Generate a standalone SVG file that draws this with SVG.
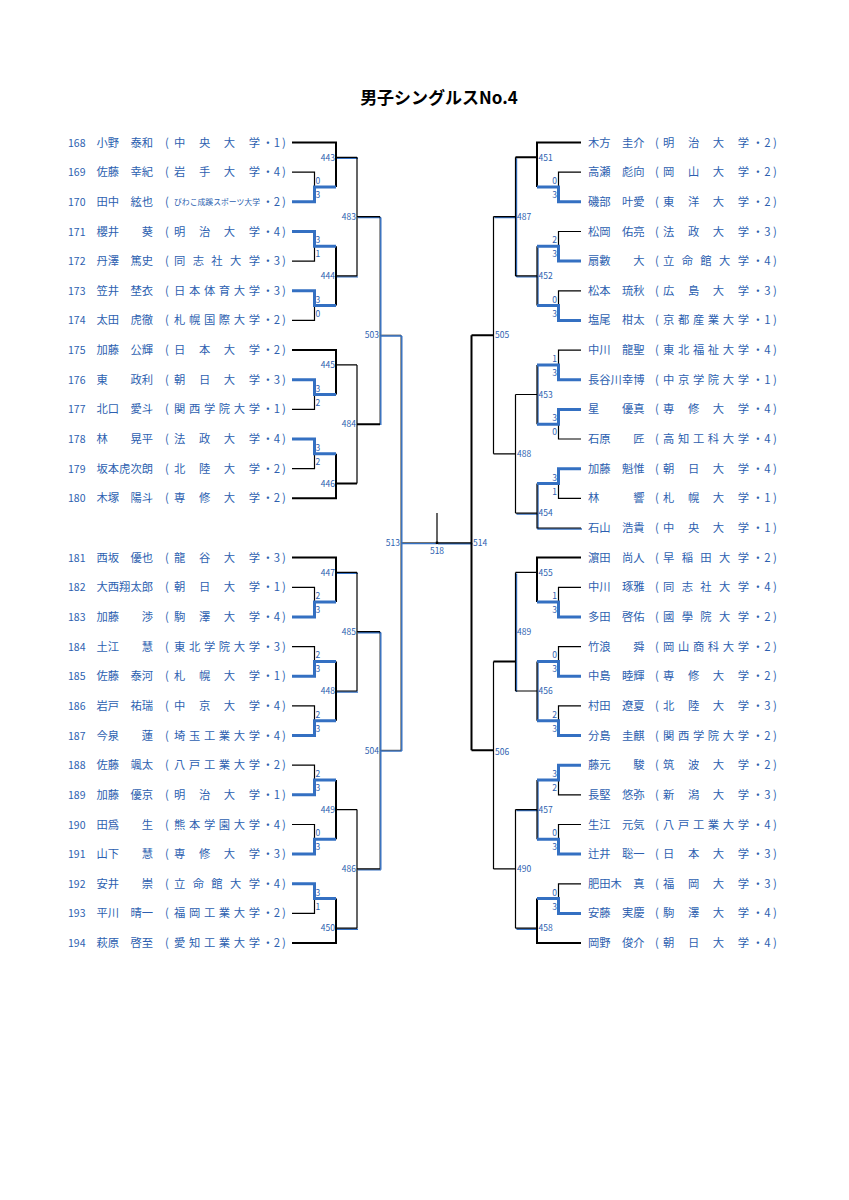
<svg xmlns="http://www.w3.org/2000/svg" xmlns:xlink="http://www.w3.org/1999/xlink" width="849" height="1200" viewBox="0 0 849 1200">
<style>
.t{font-family:"Noto Sans CJK JP","Noto Sans CJK SC",sans-serif;fill:#2d5fb0}
.n{font-size:10.5px}
.nm{font-size:11.3px}
.u{font-size:11.3px}
.m{text-anchor:middle}
.s{font-size:8.5px}
.lb{font-size:8.5px}
.k{stroke:#000;stroke-width:1.2;fill:none}
.kf{stroke:#000;stroke-width:0.8;fill:none}
.kt{stroke:#000;stroke-width:2;fill:none}
.w{stroke:#3470c2;stroke-width:3;fill:none}
.b{stroke:#3470c2;stroke-width:1.4;fill:none}
.ttl{font-family:"Noto Sans CJK JP","Noto Sans CJK SC",sans-serif;font-size:17px;font-weight:bold;fill:#000}
</style>
<defs>
<path id="dual" d="M336 157.3H357M336 275.9H357M336 572.4H357M336 691H357M336 928.2H357M357 216.6H380M357 631.7H380M357 868.9H380M537 246.3V305.6M537 364.9V424.2M537 661.4V720.7M537 780V839.3M537 275.9H515.5M537 513.1H515.5M537 809.6H515.5M537 928.2H515.5M515.5 157.3V275.9M515.5 572.4V691M515.5 216.6H493.5M471.5 542.8H437M581 528H537V483.5"/>
<path id="blu" d="M380 216.6V424.2M380 631.7V868.9M380 335.2H401M380 750.3H401M401 335.2V750.3M401 542.8H437"/>
</defs>
<rect width="849" height="1200" fill="#fff"/>
<text class="ttl" x="439" y="104" text-anchor="middle">男子シングルスNo.4</text>

<g id="connectors">
<use xlink:href="#dual" class="b" transform="translate(1,1)"/>
<use xlink:href="#dual" class="k"/>
<use xlink:href="#blu" class="kf"/>
<use xlink:href="#blu" class="b" transform="translate(0.8,0.8)"/>
<path class="k" d="M292 172.2H314.5V187M292 261.1H314.5V246.3M292 320.4H314.5V305.6M292 409.4H314.5V394.5M292 468.7H314.5V453.8M292 587.3H314.5V602.1M292 646.6H314.5V661.4M292 705.9H314.5V720.7M292 765.2H314.5V780M292 824.5H314.5V839.3M292 913.4H314.5V898.6"/>
<path class="k" d="M336 364.9H357M336 809.6H357M357 157.3V275.9M357 364.9V483.5M357 572.4V691M357 809.6V928.2"/>
<path class="kt" d="M292 142.5H336V187M292 350.1H336V394.5M292 498.3H336V453.8M292 557.6H336V602.1M292 943.1H336V898.6M336 246.3V305.6M336 661.4V720.7M336 780V839.3M336 483.5H357M357 424.2H380"/>
<path class="k" d="M581 172.2H558.5V187M581 231.5H558.5V246.3M581 290.8H558.5V305.6M581 350.1H558.5V364.9M581 439H558.5V424.2M581 498.3H558.5V483.5M581 587.3H558.5V602.1M581 646.6H558.5V661.4M581 705.9H558.5V720.7M581 794.8H558.5V780M581 824.5H558.5V839.3M581 883.8H558.5V898.6"/>
<path class="k" d="M537 394.5H515.5M537 572.4H515.5M537 691H515.5M515.5 394.5V513.1M515.5 809.6V928.2M515.5 453.8H493.5M515.5 868.9H493.5M493.5 216.6V453.8M493.5 661.4V868.9M437 513V542.8"/>
<path class="kt" d="M581 142.5H537V187M581 557.6H537V602.1M581 943.1H537V898.6M537 157.3H515.5M515.5 661.4H493.5M493.5 335.2H471.5M493.5 750.3H471.5M471.5 335.2V750.3"/>
<path class="w" d="M292 201.8H314.5V187H336M292 231.5H314.5V246.3H336M292 290.8H314.5V305.6H336M292 379.7H314.5V394.5H336M292 439H314.5V453.8H336M292 616.9H314.5V602.1H336M292 676.2H314.5V661.4H336M292 735.5H314.5V720.7H336M292 794.8H314.5V780H336M292 854.1H314.5V839.3H336M292 883.8H314.5V898.6H336"/>
<path class="w" d="M581 201.8H558.5V187H537M581 261.1H558.5V246.3H537M581 320.4H558.5V305.6H537M581 379.7H558.5V364.9H537M581 409.4H558.5V424.2H537M581 468.7H558.5V483.5H537M581 616.9H558.5V602.1H537M581 676.2H558.5V661.4H537M581 735.5H558.5V720.7H537M581 765.2H558.5V780H537M581 854.1H558.5V839.3H537M581 913.4H558.5V898.6H537"/>
<rect x="435.8" y="541.6" width="2.4" height="2.4" fill="#000"/>
</g>

<g id="scores" class="t s">
<text x="315.5" y="184">0</text><text x="315.5" y="198">3</text>
<text x="315.5" y="243.3">3</text><text x="315.5" y="257.3">1</text>
<text x="315.5" y="302.6">3</text><text x="315.5" y="316.6">0</text>
<text x="315.5" y="391.5">3</text><text x="315.5" y="405.5">2</text>
<text x="315.5" y="450.8">3</text><text x="315.5" y="464.8">2</text>
<text x="315.5" y="599.1">2</text><text x="315.5" y="613.1">3</text>
<text x="315.5" y="658.4">2</text><text x="315.5" y="672.4">3</text>
<text x="315.5" y="717.7">2</text><text x="315.5" y="731.7">3</text>
<text x="315.5" y="777">2</text><text x="315.5" y="791">3</text>
<text x="315.5" y="836.3">0</text><text x="315.5" y="850.3">3</text>
<text x="315.5" y="895.6">3</text><text x="315.5" y="909.6">1</text>
<g text-anchor="end">
<text x="557" y="184">0</text><text x="557" y="198">3</text>
<text x="557" y="243.3">2</text><text x="557" y="257.3">3</text>
<text x="557" y="302.6">0</text><text x="557" y="316.6">3</text>
<text x="557" y="361.9">1</text><text x="557" y="375.9">3</text>
<text x="557" y="421.2">3</text><text x="557" y="435.2">0</text>
<text x="557" y="480.5">3</text><text x="557" y="494.5">1</text>
<text x="557" y="599.1">1</text><text x="557" y="613.1">3</text>
<text x="557" y="658.4">0</text><text x="557" y="672.4">3</text>
<text x="557" y="717.7">2</text><text x="557" y="731.7">3</text>
<text x="557" y="777">3</text><text x="557" y="791">2</text>
<text x="557" y="836.3">0</text><text x="557" y="850.3">3</text>
<text x="557" y="895.6">0</text><text x="557" y="909.6">3</text>
</g>
</g>

<g id="matches" class="t lb">
<g text-anchor="end">
<text id="m443" x="335" y="160.5">443</text>
<text id="m444" x="335" y="279.1">444</text>
<text id="m445" x="335" y="368.1">445</text>
<text id="m446" x="335" y="486.7">446</text>
<text id="m447" x="335" y="575.6">447</text>
<text id="m448" x="335" y="694.2">448</text>
<text id="m449" x="335" y="812.8">449</text>
<text id="m450" x="335" y="931.4">450</text>
<text id="m483" x="356" y="219.8">483</text>
<text id="m484" x="356" y="427.4">484</text>
<text id="m485" x="356" y="634.9">485</text>
<text id="m486" x="356" y="872.1">486</text>
<text id="m503" x="379" y="338.4">503</text>
<text id="m504" x="379" y="753.5">504</text>
<text id="m513" x="400" y="546">513</text>
</g>
<text id="m451" x="538.5" y="160.5">451</text>
<text id="m452" x="538.5" y="279.1">452</text>
<text id="m453" x="538.5" y="397.7">453</text>
<text id="m454" x="538.5" y="516.3">454</text>
<text id="m455" x="538.5" y="575.6">455</text>
<text id="m456" x="538.5" y="694.2">456</text>
<text id="m457" x="538.5" y="812.8">457</text>
<text id="m458" x="538.5" y="931.4">458</text>
<text id="m487" x="517" y="219.8">487</text>
<text id="m488" x="517" y="457">488</text>
<text id="m489" x="517" y="634.9">489</text>
<text id="m490" x="517" y="872.1">490</text>
<text id="m505" x="495" y="338.4">505</text>
<text id="m506" x="495" y="754.5">506</text>
<text id="m514" x="473" y="546">514</text>
<text id="m518" x="437" y="554" text-anchor="middle">518</text>
</g>

<g id="left-players" class="t">
<g id="p168"><text class="n" x="68" y="146.5">168</text><text class="nm" x="96.5" y="146.5">小野　泰和</text><text class="u m" x="167" y="146.5">(</text><text class="u" x="174" y="146.5" textLength="86" lengthAdjust="spacing">中央大学</text><text class="u m" x="268 277 284" y="146.5">・1)</text></g>
<g id="p169"><text class="n" x="68" y="176.2">169</text><text class="nm" x="96.5" y="176.2">佐藤　幸紀</text><text class="u m" x="167" y="176.2">(</text><text class="u" x="174" y="176.2" textLength="86" lengthAdjust="spacing">岩手大学</text><text class="u m" x="268 277 284" y="176.2">・4)</text></g>
<g id="p170"><text class="n" x="68" y="205.8">170</text><text class="nm" x="96.5" y="205.8">田中　絃也</text><text class="u m" x="167" y="205.8">(</text><text x="174" y="205.3" style="font-size:8px" textLength="86" lengthAdjust="spacingAndGlyphs">びわこ成蹊スポーツ大学</text><text class="u m" x="268 277 284" y="205.8">・2)</text></g>
<g id="p171"><text class="n" x="68" y="235.5">171</text><text class="nm" x="96.5" y="235.5">櫻井　　葵</text><text class="u m" x="167" y="235.5">(</text><text class="u" x="174" y="235.5" textLength="86" lengthAdjust="spacing">明治大学</text><text class="u m" x="268 277 284" y="235.5">・4)</text></g>
<g id="p172"><text class="n" x="68" y="265.1">172</text><text class="nm" x="96.5" y="265.1">丹澤　篤史</text><text class="u m" x="167" y="265.1">(</text><text class="u" x="174" y="265.1" textLength="86" lengthAdjust="spacing">同志社大学</text><text class="u m" x="268 277 284" y="265.1">・3)</text></g>
<g id="p173"><text class="n" x="68" y="294.8">173</text><text class="nm" x="96.5" y="294.8">笠井　埜衣</text><text class="u m" x="167" y="294.8">(</text><text class="u" x="174" y="294.8" textLength="86" lengthAdjust="spacing">日本体育大学</text><text class="u m" x="268 277 284" y="294.8">・3)</text></g>
<g id="p174"><text class="n" x="68" y="324.4">174</text><text class="nm" x="96.5" y="324.4">太田　虎徹</text><text class="u m" x="167" y="324.4">(</text><text class="u" x="174" y="324.4" textLength="86" lengthAdjust="spacing">札幌国際大学</text><text class="u m" x="268 277 284" y="324.4">・2)</text></g>
<g id="p175"><text class="n" x="68" y="354.1">175</text><text class="nm" x="96.5" y="354.1">加藤　公輝</text><text class="u m" x="167" y="354.1">(</text><text class="u" x="174" y="354.1" textLength="86" lengthAdjust="spacing">日本大学</text><text class="u m" x="268 277 284" y="354.1">・2)</text></g>
<g id="p176"><text class="n" x="68" y="383.7">176</text><text class="nm" x="96.5" y="383.7">東　　政利</text><text class="u m" x="167" y="383.7">(</text><text class="u" x="174" y="383.7" textLength="86" lengthAdjust="spacing">朝日大学</text><text class="u m" x="268 277 284" y="383.7">・3)</text></g>
<g id="p177"><text class="n" x="68" y="413.4">177</text><text class="nm" x="96.5" y="413.4">北口　愛斗</text><text class="u m" x="167" y="413.4">(</text><text class="u" x="174" y="413.4" textLength="86" lengthAdjust="spacing">関西学院大学</text><text class="u m" x="268 277 284" y="413.4">・1)</text></g>
<g id="p178"><text class="n" x="68" y="443">178</text><text class="nm" x="96.5" y="443">林　　晃平</text><text class="u m" x="167" y="443">(</text><text class="u" x="174" y="443" textLength="86" lengthAdjust="spacing">法政大学</text><text class="u m" x="268 277 284" y="443">・4)</text></g>
<g id="p179"><text class="n" x="68" y="472.7">179</text><text class="nm" x="96.5" y="472.7">坂本虎次朗</text><text class="u m" x="167" y="472.7">(</text><text class="u" x="174" y="472.7" textLength="86" lengthAdjust="spacing">北陸大学</text><text class="u m" x="268 277 284" y="472.7">・2)</text></g>
<g id="p180"><text class="n" x="68" y="502.3">180</text><text class="nm" x="96.5" y="502.3">木塚　陽斗</text><text class="u m" x="167" y="502.3">(</text><text class="u" x="174" y="502.3" textLength="86" lengthAdjust="spacing">専修大学</text><text class="u m" x="268 277 284" y="502.3">・2)</text></g>
<g id="p181"><text class="n" x="68" y="561.6">181</text><text class="nm" x="96.5" y="561.6">西坂　優也</text><text class="u m" x="167" y="561.6">(</text><text class="u" x="174" y="561.6" textLength="86" lengthAdjust="spacing">龍谷大学</text><text class="u m" x="268 277 284" y="561.6">・3)</text></g>
<g id="p182"><text class="n" x="68" y="591.3">182</text><text class="nm" x="96.5" y="591.3">大西翔太郎</text><text class="u m" x="167" y="591.3">(</text><text class="u" x="174" y="591.3" textLength="86" lengthAdjust="spacing">朝日大学</text><text class="u m" x="268 277 284" y="591.3">・1)</text></g>
<g id="p183"><text class="n" x="68" y="620.9">183</text><text class="nm" x="96.5" y="620.9">加藤　　渉</text><text class="u m" x="167" y="620.9">(</text><text class="u" x="174" y="620.9" textLength="86" lengthAdjust="spacing">駒澤大学</text><text class="u m" x="268 277 284" y="620.9">・4)</text></g>
<g id="p184"><text class="n" x="68" y="650.6">184</text><text class="nm" x="96.5" y="650.6">土江　　慧</text><text class="u m" x="167" y="650.6">(</text><text class="u" x="174" y="650.6" textLength="86" lengthAdjust="spacing">東北学院大学</text><text class="u m" x="268 277 284" y="650.6">・3)</text></g>
<g id="p185"><text class="n" x="68" y="680.2">185</text><text class="nm" x="96.5" y="680.2">佐藤　泰河</text><text class="u m" x="167" y="680.2">(</text><text class="u" x="174" y="680.2" textLength="86" lengthAdjust="spacing">札幌大学</text><text class="u m" x="268 277 284" y="680.2">・1)</text></g>
<g id="p186"><text class="n" x="68" y="709.9">186</text><text class="nm" x="96.5" y="709.9">岩戸　祐瑞</text><text class="u m" x="167" y="709.9">(</text><text class="u" x="174" y="709.9" textLength="86" lengthAdjust="spacing">中京大学</text><text class="u m" x="268 277 284" y="709.9">・4)</text></g>
<g id="p187"><text class="n" x="68" y="739.5">187</text><text class="nm" x="96.5" y="739.5">今泉　　蓮</text><text class="u m" x="167" y="739.5">(</text><text class="u" x="174" y="739.5" textLength="86" lengthAdjust="spacing">埼玉工業大学</text><text class="u m" x="268 277 284" y="739.5">・4)</text></g>
<g id="p188"><text class="n" x="68" y="769.2">188</text><text class="nm" x="96.5" y="769.2">佐藤　颯太</text><text class="u m" x="167" y="769.2">(</text><text class="u" x="174" y="769.2" textLength="86" lengthAdjust="spacing">八戸工業大学</text><text class="u m" x="268 277 284" y="769.2">・2)</text></g>
<g id="p189"><text class="n" x="68" y="798.8">189</text><text class="nm" x="96.5" y="798.8">加藤　優京</text><text class="u m" x="167" y="798.8">(</text><text class="u" x="174" y="798.8" textLength="86" lengthAdjust="spacing">明治大学</text><text class="u m" x="268 277 284" y="798.8">・1)</text></g>
<g id="p190"><text class="n" x="68" y="828.5">190</text><text class="nm" x="96.5" y="828.5">田爲　　生</text><text class="u m" x="167" y="828.5">(</text><text class="u" x="174" y="828.5" textLength="86" lengthAdjust="spacing">熊本学園大学</text><text class="u m" x="268 277 284" y="828.5">・4)</text></g>
<g id="p191"><text class="n" x="68" y="858.1">191</text><text class="nm" x="96.5" y="858.1">山下　　慧</text><text class="u m" x="167" y="858.1">(</text><text class="u" x="174" y="858.1" textLength="86" lengthAdjust="spacing">専修大学</text><text class="u m" x="268 277 284" y="858.1">・3)</text></g>
<g id="p192"><text class="n" x="68" y="887.8">192</text><text class="nm" x="96.5" y="887.8">安井　　崇</text><text class="u m" x="167" y="887.8">(</text><text class="u" x="174" y="887.8" textLength="86" lengthAdjust="spacing">立命館大学</text><text class="u m" x="268 277 284" y="887.8">・4)</text></g>
<g id="p193"><text class="n" x="68" y="917.4">193</text><text class="nm" x="96.5" y="917.4">平川　晴一</text><text class="u m" x="167" y="917.4">(</text><text class="u" x="174" y="917.4" textLength="86" lengthAdjust="spacing">福岡工業大学</text><text class="u m" x="268 277 284" y="917.4">・2)</text></g>
<g id="p194"><text class="n" x="68" y="947.1">194</text><text class="nm" x="96.5" y="947.1">萩原　啓至</text><text class="u m" x="167" y="947.1">(</text><text class="u" x="174" y="947.1" textLength="86" lengthAdjust="spacing">愛知工業大学</text><text class="u m" x="268 277 284" y="947.1">・2)</text></g>
</g>

<g id="right-players" class="t">
<g id="r01"><text class="nm" x="588" y="146.5">木方　圭介</text><text class="u m" x="657" y="146.5">(</text><text class="u" x="663" y="146.5" textLength="86" lengthAdjust="spacing">明治大学</text><text class="u m" x="758 767.5 775" y="146.5">・2)</text></g>
<g id="r02"><text class="nm" x="588" y="176.2">高瀬　彪向</text><text class="u m" x="657" y="176.2">(</text><text class="u" x="663" y="176.2" textLength="86" lengthAdjust="spacing">岡山大学</text><text class="u m" x="758 767.5 775" y="176.2">・2)</text></g>
<g id="r03"><text class="nm" x="588" y="205.8">磯部　叶愛</text><text class="u m" x="657" y="205.8">(</text><text class="u" x="663" y="205.8" textLength="86" lengthAdjust="spacing">東洋大学</text><text class="u m" x="758 767.5 775" y="205.8">・2)</text></g>
<g id="r04"><text class="nm" x="588" y="235.5">松岡　佑亮</text><text class="u m" x="657" y="235.5">(</text><text class="u" x="663" y="235.5" textLength="86" lengthAdjust="spacing">法政大学</text><text class="u m" x="758 767.5 775" y="235.5">・3)</text></g>
<g id="r05"><text class="nm" x="588" y="265.1">扇數　　大</text><text class="u m" x="657" y="265.1">(</text><text class="u" x="663" y="265.1" textLength="86" lengthAdjust="spacing">立命館大学</text><text class="u m" x="758 767.5 775" y="265.1">・4)</text></g>
<g id="r06"><text class="nm" x="588" y="294.8">松本　琉秋</text><text class="u m" x="657" y="294.8">(</text><text class="u" x="663" y="294.8" textLength="86" lengthAdjust="spacing">広島大学</text><text class="u m" x="758 767.5 775" y="294.8">・3)</text></g>
<g id="r07"><text class="nm" x="588" y="324.4">塩尾　柑太</text><text class="u m" x="657" y="324.4">(</text><text class="u" x="663" y="324.4" textLength="86" lengthAdjust="spacing">京都産業大学</text><text class="u m" x="758 767.5 775" y="324.4">・1)</text></g>
<g id="r08"><text class="nm" x="588" y="354.1">中川　龍聖</text><text class="u m" x="657" y="354.1">(</text><text class="u" x="663" y="354.1" textLength="86" lengthAdjust="spacing">東北福祉大学</text><text class="u m" x="758 767.5 775" y="354.1">・4)</text></g>
<g id="r09"><text class="nm" x="588" y="383.7">長谷川幸博</text><text class="u m" x="657" y="383.7">(</text><text class="u" x="663" y="383.7" textLength="86" lengthAdjust="spacing">中京学院大学</text><text class="u m" x="758 767.5 775" y="383.7">・1)</text></g>
<g id="r10"><text class="nm" x="588" y="413.4">星　　優真</text><text class="u m" x="657" y="413.4">(</text><text class="u" x="663" y="413.4" textLength="86" lengthAdjust="spacing">専修大学</text><text class="u m" x="758 767.5 775" y="413.4">・4)</text></g>
<g id="r11"><text class="nm" x="588" y="443">石原　　匠</text><text class="u m" x="657" y="443">(</text><text class="u" x="663" y="443" textLength="86" lengthAdjust="spacing">高知工科大学</text><text class="u m" x="758 767.5 775" y="443">・4)</text></g>
<g id="r12"><text class="nm" x="588" y="472.7">加藤　魁惟</text><text class="u m" x="657" y="472.7">(</text><text class="u" x="663" y="472.7" textLength="86" lengthAdjust="spacing">朝日大学</text><text class="u m" x="758 767.5 775" y="472.7">・4)</text></g>
<g id="r13"><text class="nm" x="588" y="502.3">林　　　響</text><text class="u m" x="657" y="502.3">(</text><text class="u" x="663" y="502.3" textLength="86" lengthAdjust="spacing">札幌大学</text><text class="u m" x="758 767.5 775" y="502.3">・1)</text></g>
<g id="r14"><text class="nm" x="588" y="532">石山　浩貴</text><text class="u m" x="657" y="532">(</text><text class="u" x="663" y="532" textLength="86" lengthAdjust="spacing">中央大学</text><text class="u m" x="758 767.5 775" y="532">・1)</text></g>
<g id="r15"><text class="nm" x="588" y="561.6">濵田　尚人</text><text class="u m" x="657" y="561.6">(</text><text class="u" x="663" y="561.6" textLength="86" lengthAdjust="spacing">早稲田大学</text><text class="u m" x="758 767.5 775" y="561.6">・2)</text></g>
<g id="r16"><text class="nm" x="588" y="591.3">中川　琢雅</text><text class="u m" x="657" y="591.3">(</text><text class="u" x="663" y="591.3" textLength="86" lengthAdjust="spacing">同志社大学</text><text class="u m" x="758 767.5 775" y="591.3">・4)</text></g>
<g id="r17"><text class="nm" x="588" y="620.9">多田　啓佑</text><text class="u m" x="657" y="620.9">(</text><text class="u" x="663" y="620.9" textLength="86" lengthAdjust="spacing">國學院大学</text><text class="u m" x="758 767.5 775" y="620.9">・2)</text></g>
<g id="r18"><text class="nm" x="588" y="650.6">竹浪　　舜</text><text class="u m" x="657" y="650.6">(</text><text class="u" x="663" y="650.6" textLength="86" lengthAdjust="spacing">岡山商科大学</text><text class="u m" x="758 767.5 775" y="650.6">・2)</text></g>
<g id="r19"><text class="nm" x="588" y="680.2">中島　睦輝</text><text class="u m" x="657" y="680.2">(</text><text class="u" x="663" y="680.2" textLength="86" lengthAdjust="spacing">専修大学</text><text class="u m" x="758 767.5 775" y="680.2">・2)</text></g>
<g id="r20"><text class="nm" x="588" y="709.9">村田　遼夏</text><text class="u m" x="657" y="709.9">(</text><text class="u" x="663" y="709.9" textLength="86" lengthAdjust="spacing">北陸大学</text><text class="u m" x="758 767.5 775" y="709.9">・3)</text></g>
<g id="r21"><text class="nm" x="588" y="739.5">分島　圭麒</text><text class="u m" x="657" y="739.5">(</text><text class="u" x="663" y="739.5" textLength="86" lengthAdjust="spacing">関西学院大学</text><text class="u m" x="758 767.5 775" y="739.5">・2)</text></g>
<g id="r22"><text class="nm" x="588" y="769.2">藤元　　駿</text><text class="u m" x="657" y="769.2">(</text><text class="u" x="663" y="769.2" textLength="86" lengthAdjust="spacing">筑波大学</text><text class="u m" x="758 767.5 775" y="769.2">・2)</text></g>
<g id="r23"><text class="nm" x="588" y="798.8">長堅　悠弥</text><text class="u m" x="657" y="798.8">(</text><text class="u" x="663" y="798.8" textLength="86" lengthAdjust="spacing">新潟大学</text><text class="u m" x="758 767.5 775" y="798.8">・3)</text></g>
<g id="r24"><text class="nm" x="588" y="828.5">生江　元気</text><text class="u m" x="657" y="828.5">(</text><text class="u" x="663" y="828.5" textLength="86" lengthAdjust="spacing">八戸工業大学</text><text class="u m" x="758 767.5 775" y="828.5">・4)</text></g>
<g id="r25"><text class="nm" x="588" y="858.1">辻井　聡一</text><text class="u m" x="657" y="858.1">(</text><text class="u" x="663" y="858.1" textLength="86" lengthAdjust="spacing">日本大学</text><text class="u m" x="758 767.5 775" y="858.1">・3)</text></g>
<g id="r26"><text class="nm" x="588" y="887.8">肥田木　真</text><text class="u m" x="657" y="887.8">(</text><text class="u" x="663" y="887.8" textLength="86" lengthAdjust="spacing">福岡大学</text><text class="u m" x="758 767.5 775" y="887.8">・3)</text></g>
<g id="r27"><text class="nm" x="588" y="917.4">安藤　実慶</text><text class="u m" x="657" y="917.4">(</text><text class="u" x="663" y="917.4" textLength="86" lengthAdjust="spacing">駒澤大学</text><text class="u m" x="758 767.5 775" y="917.4">・4)</text></g>
<g id="r28"><text class="nm" x="588" y="947.1">岡野　俊介</text><text class="u m" x="657" y="947.1">(</text><text class="u" x="663" y="947.1" textLength="86" lengthAdjust="spacing">朝日大学</text><text class="u m" x="758 767.5 775" y="947.1">・4)</text></g>
</g>
</svg>
